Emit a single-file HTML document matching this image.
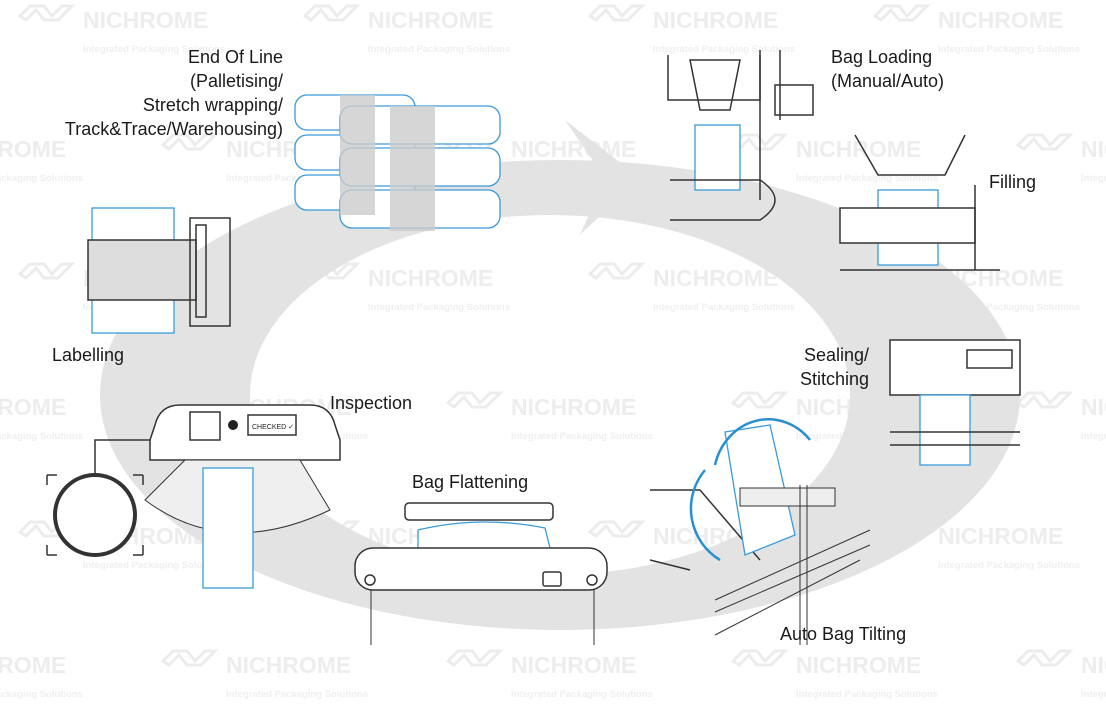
<!DOCTYPE html>
<html><head><meta charset="utf-8"><style>
html,body{margin:0;padding:0;background:#fff}
svg{display:block}
text{font-family:"Liberation Sans",sans-serif}
.wm{fill:#ededed;font-weight:bold;font-size:23px}
.ws{fill:#efefef;font-weight:bold;font-size:9.5px}
.lb{fill:#1a1a1a;font-size:18px}
.k{fill:none;stroke:#333;stroke-width:1.5}
.b{fill:#fff;stroke:#3a9ad9;stroke-width:1.3}
</style></head><body>
<svg width="1106" height="709" viewBox="0 0 1106 709">
<defs>
<g id="w"><path d="M0 14 l10 -10 h14 l8 10 l10 -10 h10 l-14 14 h-14 l-8 -10 l-10 10 z" fill="none" stroke="#ececec" stroke-width="3"/>
<text class="wm" x="63" y="26">NICHROME</text><text class="ws" x="63" y="50">Integrated Packaging Solutions</text></g>
</defs>
<!-- watermarks -->
<g>
<use href="#w" x="20" y="2"/><use href="#w" x="305" y="2"/><use href="#w" x="590" y="2"/><use href="#w" x="875" y="2"/>
<use href="#w" x="-122" y="131"/><use href="#w" x="163" y="131"/><use href="#w" x="448" y="131"/><use href="#w" x="733" y="131"/><use href="#w" x="1018" y="131"/>
<use href="#w" x="20" y="260"/><use href="#w" x="305" y="260"/><use href="#w" x="590" y="260"/><use href="#w" x="875" y="260"/>
<use href="#w" x="-122" y="389"/><use href="#w" x="163" y="389"/><use href="#w" x="448" y="389"/><use href="#w" x="733" y="389"/><use href="#w" x="1018" y="389"/>
<use href="#w" x="20" y="518"/><use href="#w" x="305" y="518"/><use href="#w" x="590" y="518"/><use href="#w" x="875" y="518"/>
<use href="#w" x="-122" y="647"/><use href="#w" x="163" y="647"/><use href="#w" x="448" y="647"/><use href="#w" x="733" y="647"/><use href="#w" x="1018" y="647"/>
</g>
<!-- ring -->
<path fill-rule="evenodd" fill="#e3e3e3" d="M100 395 a460 235 0 1 0 920 0 a460 235 0 1 0 -920 0 Z M250 395 a300 180 0 1 0 600 0 a300 180 0 1 0 -600 0 Z"/>
<path d="M565 120 L640 178 L580 235 L605 178 Z" fill="#e3e3e3"/>
<!-- end of line bags -->
<g>
<rect x="295" y="95" width="120" height="35" rx="12" class="b"/><rect x="295" y="135" width="120" height="35" rx="12" class="b"/><rect x="295" y="175" width="120" height="35" rx="12" class="b"/>
<rect x="340" y="106" width="160" height="38" rx="12" class="b"/><rect x="340" y="148" width="160" height="38" rx="12" class="b"/><rect x="340" y="190" width="160" height="38" rx="12" class="b"/>
<rect x="340" y="95" width="35" height="120" fill="#ccc" opacity=".8"/><rect x="390" y="106" width="45" height="125" fill="#ccc" opacity=".8"/>
</g>
<!-- labelling -->
<rect x="92" y="208" width="82" height="125" class="b"/>
<rect x="88" y="240" width="108" height="60" fill="#ddd" stroke="#333" stroke-width="1.5"/>
<rect x="190" y="218" width="40" height="108" class="k"/><rect x="196" y="225" width="10" height="92" class="k"/>
<!-- inspection -->
<path d="M150 440 L155 425 Q160 405 180 405 H310 Q330 405 335 425 L340 440 V460 H150 Z" fill="#fff" stroke="#333" stroke-width="1.5"/>
<path d="M185 460 L145 500 Q225 560 330 510 L300 460 Z" fill="#efefef" stroke="#333"/>
<rect x="203" y="468" width="50" height="120" class="b"/>
<rect x="190" y="412" width="30" height="28" class="k"/><circle cx="233" cy="425" r="5" fill="#222"/>
<rect x="248" y="415" width="48" height="20" class="k"/><text x="252" y="429" font-size="7" fill="#222">CHECKED ✓</text>
<path d="M95 475 V440 H150" class="k" stroke-width="1"/>
<circle cx="95" cy="515" r="40" fill="#fff" stroke="#333" stroke-width="4"/>
<path d="M47 475 h10 M47 475 v10 M143 475 h-10 M143 475 v10 M47 555 h10 M47 555 v-10 M143 555 h-10 M143 555 v-10" class="k"/>
<!-- bag flattening -->
<rect x="405" y="503" width="148" height="17" rx="4" class="k" fill="#fff"/>
<path d="M418 530 Q480 515 545 528 L550 548 Q480 562 418 555 Z" class="b"/>
<rect x="355" y="548" width="252" height="42" rx="18" fill="#fff" stroke="#333" stroke-width="1.5"/>
<circle cx="370" cy="580" r="5" class="k"/><circle cx="592" cy="580" r="5" class="k"/>
<rect x="543" y="572" width="18" height="14" rx="2" class="k"/>
<path d="M371 590 V645 M594 590 V645" stroke="#333"/>
<!-- bag loading -->
<path d="M668 55 V100 H760 V55 M690 60 H740 L730 110 H700 Z" class="k"/>
<rect x="695" y="125" width="45" height="65" class="b"/>
<path d="M670 180 H760 Q790 200 760 220 H670" class="k"/>
<rect x="775" y="85" width="38" height="30" class="k"/>
<path d="M760 50 V200 M780 50 V120" class="k"/>
<!-- filling -->
<path d="M855 135 L878 175 H945 L965 135" class="k"/>
<rect x="878" y="190" width="60" height="75" class="b" fill="#f4f4f4"/>
<rect x="840" y="208" width="135" height="35" fill="#fff" stroke="#333" stroke-width="1.5"/>
<path d="M975 185 V270 M840 270 H1000" class="k"/>
<!-- sealing -->
<rect x="890" y="340" width="130" height="55" fill="#fff" stroke="#333" stroke-width="1.5"/>
<rect x="967" y="350" width="45" height="18" class="k"/>
<rect x="920" y="395" width="50" height="70" class="b"/>
<path d="M890 432 H1020 M890 445 H1020" class="k"/>
<!-- tilting -->
<path d="M650 490 H700 L760 560 M650 560 L690 570" class="k"/>
<path d="M725 432 L770 425 L795 535 L745 555 Z" class="b"/>
<rect x="740" y="488" width="95" height="18" fill="#eee" stroke="#333"/>
<path d="M715 465 A55 60 0 0 1 810 440" fill="none" stroke="#2a8fd0" stroke-width="2.5"/>
<path d="M720 560 A60 60 0 0 1 705 470" fill="none" stroke="#2a8fd0" stroke-width="2.5"/>
<path d="M800 485 V645 M807 485 V645 M715 600 L870 530 M715 612 L870 545 M715 635 L860 560" stroke="#333" fill="none"/>
<!-- labels -->
<text class="lb" x="283" y="63" text-anchor="end">End Of Line</text>
<text class="lb" x="283" y="87" text-anchor="end">(Palletising/</text>
<text class="lb" x="283" y="111" text-anchor="end">Stretch wrapping/</text>
<text class="lb" x="283" y="135" text-anchor="end">Track&amp;Trace/Warehousing)</text>
<text class="lb" x="831" y="63">Bag Loading</text>
<text class="lb" x="831" y="87">(Manual/Auto)</text>
<text class="lb" x="989" y="188">Filling</text>
<text class="lb" x="869" y="361" text-anchor="end">Sealing/</text>
<text class="lb" x="869" y="385" text-anchor="end">Stitching</text>
<text class="lb" x="52" y="361">Labelling</text>
<text class="lb" x="330" y="409">Inspection</text>
<text class="lb" x="412" y="488">Bag Flattening</text>
<text class="lb" x="780" y="640">Auto Bag Tilting</text>
</svg>
</body></html>
